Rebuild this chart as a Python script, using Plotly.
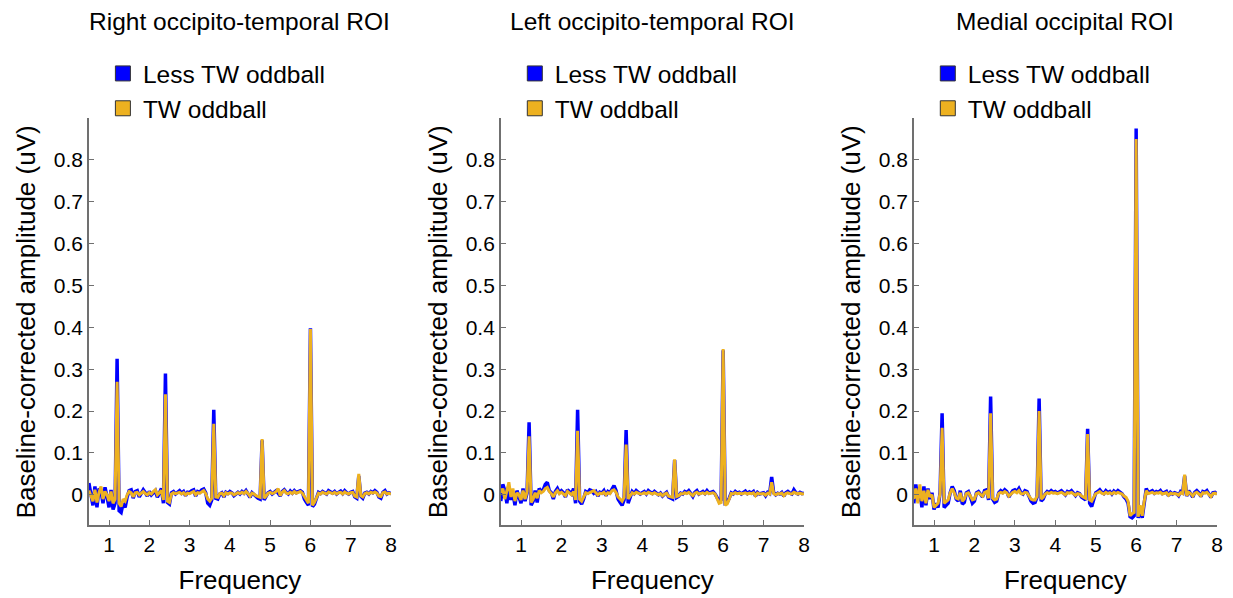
import numpy as np
import plotly.graph_objects as go

# ---------------- data ----------------
TITLES = ["Right occipito-temporal ROI", "Left occipito-temporal ROI", "Medial occipital ROI"]
SERIES_NAMES = ["Less TW oddball", "TW oddball"]
X_TITLE = "Frequency"
Y_TITLE = "Baseline-corrected amplitude (uV)"
X_TICKS = [1, 2, 3, 4, 5, 6, 7, 8]
Y_TICKS = [0, 0.1, 0.2, 0.3, 0.4, 0.5, 0.6, 0.7, 0.8]
Y_TICK_LABELS = ["0", "0.1", "0.2", "0.3", "0.4", "0.5", "0.6", "0.7", "0.8"]

# frequency bins (Hz): 0.50 ... 8.00, 0.05 Hz resolution
FREQ = np.round(np.arange(0.5, 8.0001, 0.05), 2)

# amplitudes in units of 0.001 uV
right_less = [
    28, 5, -25, 20, -30, 15, 10, -20, 18, -5,
    -30, 12, -35, -20, 325, -38, -42, -20, -30, -5, 10, 12, -8, 8, 10, -5, 2, 12, 5, -3,
    8, 0, 5, 10, -6, 3, 15, -20, 290, -18, -22, 5, 8, 2, 6, 10, 4, 8, -2, 6,
    5, 10, 12, -3, 8, 6, 12, 14, 5, -20, -25, -12, 203, -8, -10, 2, 5, -5, 6, 3,
    8, 5, -2, 3, 6, 2, 8, 4, 10, 2, -6, 5, 0, -4, -8, -10, 130, -12, -5, 5,
    8, 2, 6, 10, 4, -3, 8, 12, 6, 2, 9, 4, 10, 5, 8, 10, 6, -10, -18, -25,
    398, -28, -22, -8, 6, 3, 8, 5, 2, 10, 6, 4, 8, 2, 6, 9, 3, 10, 5, 2,
    6, 8, -5, -8, 45, -3, -8, 4, 6, 2, 8, 5, 10, 6, -5, -8, 6, 10, 2, 5,
    3,
]
right_tw = [
    10, -5, -15, 12, -18, 5, 20, -10, 8, 0,
    -15, 8, -20, -10, 270, -20, -28, -10, -15, 0, 8, 5, -5, 5, 6, 0, 4, 8, 3, 0,
    5, 2, 8, 12, 0, 5, 10, -12, 240, -15, -18, 2, 5, 3, 4, 6, 2, 5, 0, 4,
    3, 6, 8, 0, 5, 4, 8, 10, 3, -10, -15, -8, 170, -5, -6, 3, 4, -2, 5, 2,
    5, 4, 0, 2, 5, 3, 6, 3, 8, 3, -3, 4, 2, -2, -5, -6, 133, -8, -3, 4,
    6, 3, 5, 8, 15, -2, 6, 10, 4, 3, 6, 3, 8, 4, 6, 8, 4, -5, -12, -20,
    396, -25, -18, -5, 4, 2, 6, 4, 2, 7, 4, 3, 6, 2, 5, 6, 2, 7, 4, 2,
    5, 6, -3, -5, 50, -2, -5, 3, 5, 2, 6, 4, 7, 4, -3, -4, 5, 7, 2, 4,
    2,
]
left_less = [
    -15, 25, 10, -20, 20, -12, 5, -25, 10, -5,
    -20, 15, -15, 5, 173, -25, -15, 10, -18, 15, 8, 12, 25, 30, 10, 5, -10, 8, 15, 5,
    10, 5, -5, 12, 8, 2, 15, -20, 203, -15, -22, -10, 8, 5, 12, 10, 4, 8, -3, 6,
    4, 10, -2, 8, 5, 15, 22, 10, -10, -18, -25, -12, 155, -20, -5, 8, 3, 10, 6, 2,
    5, 8, 2, 10, 6, 3, 8, 5, 0, 4, -3, 2, 6, -5, -8, -10, 83, -6, -3, 4,
    2, 8, 5, 10, 3, -4, 6, 10, 2, 5, 8, 3, 10, 4, 6, 8, 2, -5, -15, -12,
    345, -20, -18, -8, 5, 2, 8, 4, 6, 2, 5, 9, 3, 7, 4, 8, -3, 6, 2, 4,
    5, -2, 6, 3, 43, 5, 0, 4, 2, 6, -3, 5, 8, 4, 2, 12, 5, 2, 6, 3,
    4,
]
left_tw = [
    5, 15, -10, 8, 30, -5, 15, -15, 5, 0,
    -12, 10, -10, 8, 140, -18, -10, 5, -8, 10, 5, 8, 15, 18, 8, 3, -5, 5, 10, 3,
    6, 2, -2, 8, 5, 0, 8, -12, 153, -10, -15, -6, 5, 3, 6, 8, 10, 5, 0, 4,
    3, 6, 0, 5, 3, 10, 12, 6, -5, -10, -15, -6, 120, -10, -3, 5, 2, 6, 4, 2,
    3, 5, 2, 6, 4, 2, 5, 3, 0, 3, -2, 2, 4, -3, -5, -6, 85, -4, -2, 3,
    2, 5, 3, 6, 2, -2, 4, 6, 2, 3, 5, 2, 6, 3, 4, 5, 2, -8, -20, -18,
    348, -25, -22, -10, 3, 2, 5, 3, 4, 2, 3, 5, 2, 4, 3, 5, -2, 4, 2, 3,
    3, -1, 4, 2, 30, 3, 0, 3, 2, 4, -2, 3, 5, 3, 2, 6, 3, 2, 4, 2,
    3,
]
medial_less = [
    -20, 25, -15, 10, -30, 20, -25, 15, -10, 5,
    -35, -20, -30, 5, 195, -30, -25, -20, 5, 20, 10, -10, -15, 10, -22, -18, 5, 8, -5, -20,
    -15, 5, 8, 2, -5, 10, 12, -12, 235, -10, -18, -15, 5, 10, 6, 12, 8, -5, 3, 10,
    12, 8, 15, 5, 2, 10, 8, -5, -15, -20, -18, -5, 230, -15, -10, 2, 8, 5, 10, 6,
    8, 4, 6, 10, 5, 0, 8, 6, 10, 4, -2, 5, 3, -5, -10, -12, 158, -20, -28, -10,
    5, 8, 12, 6, 3, 10, 5, 8, 2, 9, 5, 10, 6, 3, -5, -10, -20, -52, -55, -50,
    875, -55, -30, -55, -20, 15, 5, 8, 10, 4, 8, 6, 10, 3, 5, 8, -2, 6, 2, 5,
    3, -2, 8, 5, 45, -3, 10, 4, -5, 6, 10, 5, -4, 8, 6, 10, 3, -6, 5, 6,
    2,
]
medial_tw = [
    -10, 15, -20, 25, -15, 10, -20, 12, -5, 0,
    -30, -25, -20, 3, 160, -20, -15, -12, 5, 15, 5, -8, -10, 5, -15, -10, 3, 5, -3, -12,
    -10, 3, 5, 2, -3, 6, 8, -8, 195, -8, -12, -10, 3, 6, 4, 8, 5, -3, 2, 6,
    8, 5, 10, 3, 2, 6, 5, -3, -10, -12, -12, -3, 200, -10, -6, 2, 5, 3, 6, 4,
    5, 3, 4, 6, 3, 0, 5, 4, 6, 3, -1, 3, 2, -3, -6, -8, 145, -12, -15, -6,
    3, 5, 8, 4, 2, 6, 3, 5, 2, 6, 3, 6, 4, 2, -3, -6, -15, -50, -45, -42,
    850, -52, -25, -50, -15, 10, 3, 5, 6, 3, 5, 4, 6, 2, 3, 5, -1, 4, 2, 3,
    2, -1, 5, 3, 48, -2, 6, 3, -3, 4, 6, 3, -2, 5, 4, 6, 2, -4, 3, 4,
    2,
]

PANELS = [(right_less, right_tw), (left_less, left_tw), (medial_less, medial_tw)]
for a, b in PANELS:
    assert len(a) == len(FREQ) and len(b) == len(FREQ)

# ---------------- style ----------------
BLUE = "#0000FF"
ORANGE = "#EDB120"
FONT = "Liberation Sans, Arial, sans-serif"
W, H = 1233, 598
X_DOMAINS = [(88.9, 391.0), (500.8, 804.0), (913.8, 1217.0)]
Y_DOM = (1 - 525 / H, 1 - 118 / H)

fig = go.Figure()
for i, (less, tw) in enumerate(PANELS):
    n = "" if i == 0 else str(i + 1)
    xa, ya = "x" + n, "y" + n
    lg = "legend" + n
    fig.add_trace(go.Scatter(x=FREQ, y=np.array(less) / 1000.0, mode="lines",
                             line=dict(color=BLUE, width=3.5), xaxis=xa, yaxis=ya,
                             showlegend=False, hoverinfo="skip"))
    fig.add_trace(go.Scatter(x=FREQ, y=np.array(tw) / 1000.0, mode="lines",
                             line=dict(color=ORANGE, width=3), xaxis=xa, yaxis=ya,
                             showlegend=False, hoverinfo="skip"))
    for name, col in zip(SERIES_NAMES, [BLUE, ORANGE]):
        fig.add_trace(go.Scatter(x=[None], y=[None], mode="markers", name=name,
                                 marker=dict(symbol="square", size=15, color=col,
                                             line=dict(color="#333333", width=1)),
                                 xaxis=xa, yaxis=ya, legend=lg, showlegend=True))

layout = dict(
    width=W, height=H, margin=dict(l=0, r=0, t=0, b=0),
    paper_bgcolor="white", plot_bgcolor="white",
    font=dict(family=FONT, color="black", size=21),
    showlegend=True, annotations=[],
)
for i in range(3):
    n = "" if i == 0 else str(i + 1)
    x0, x1 = X_DOMAINS[i]
    layout["xaxis" + n] = dict(
        domain=[x0 / W, x1 / W], range=[0.5, 8], anchor="y" + n,
        tickmode="array", tickvals=X_TICKS, ticktext=[str(t) for t in X_TICKS],
        ticks="inside", ticklen=5, tickcolor="#707070", showline=True,
        linecolor="#707070", linewidth=1.5, showgrid=False, zeroline=False,
        tickfont=dict(size=21), automargin=False,
        title=dict(text=X_TITLE, font=dict(size=26), standoff=16),
    )
    layout["yaxis" + n] = dict(
        domain=list(Y_DOM), range=[-0.072, 0.9], anchor="x" + n,
        tickmode="array", tickvals=Y_TICKS, ticktext=Y_TICK_LABELS,
        ticks="inside", ticklen=5, tickcolor="#707070", showline=True,
        linecolor="#707070", linewidth=1.5, showgrid=False, zeroline=False,
        tickfont=dict(size=21), automargin=False,
    )
    layout["legend" + n] = dict(
        x=(x0 + 14) / W, y=1 - 51 / H, xanchor="left", yanchor="top",
        bgcolor="rgba(0,0,0,0)", font=dict(size=24.5), itemsizing="trace",
        tracegroupgap=0,
    )
    layout["annotations"].append(dict(
        text=TITLES[i], x=(x0 + x1) / 2 / W, y=1 - 22 / H, xref="paper", yref="paper",
        xanchor="center", yanchor="middle", showarrow=False, font=dict(size=24.5)))
    layout["annotations"].append(dict(
        text=Y_TITLE, x=(x0 - 63) / W, y=(Y_DOM[0] + Y_DOM[1]) / 2, xref="paper",
        yref="paper", xanchor="center", yanchor="middle", textangle=-90,
        showarrow=False, font=dict(size=26)))

fig.update_layout(**layout)
fig.write_html("out.html")
